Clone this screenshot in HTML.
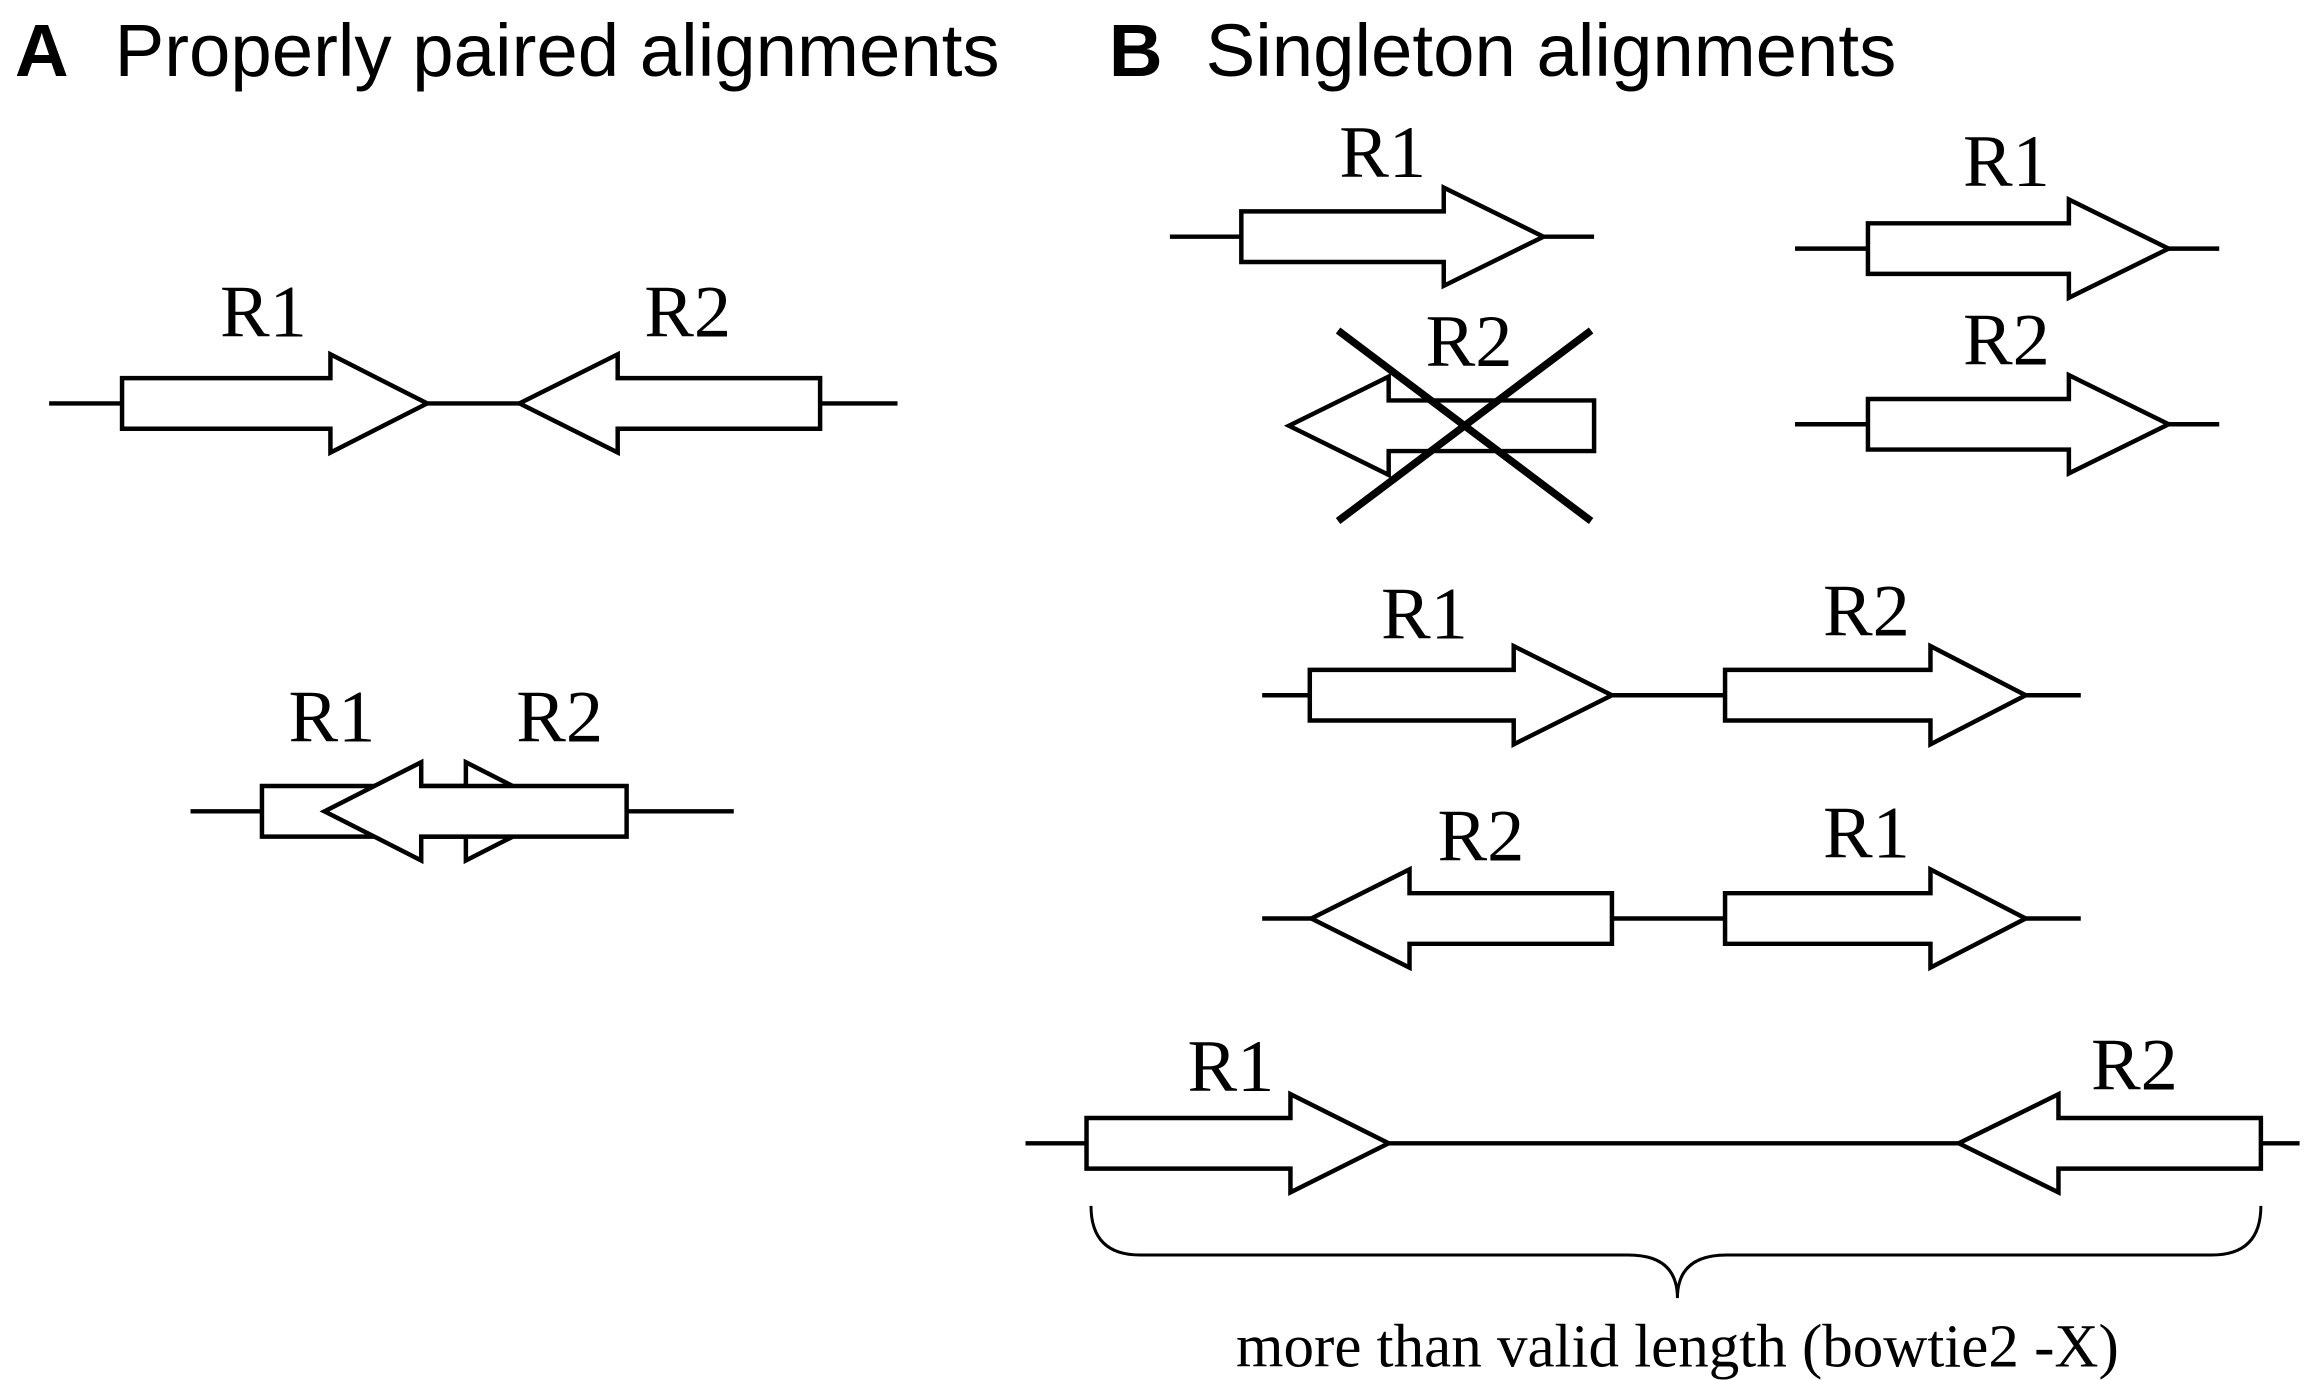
<!DOCTYPE html>
<html><head><meta charset="utf-8"><style>
html,body{margin:0;padding:0;background:#fff;}
svg{display:block;}
</style></head><body>
<svg width="2310" height="1380" viewBox="0 0 1552 927" preserveAspectRatio="none" xmlns="http://www.w3.org/2000/svg">
<rect width="1552" height="927" fill="#fff"/>
<g font-family="'Liberation Sans',sans-serif" font-size="50" fill="#000">
<text x="10" y="51" font-weight="bold">A</text>
<text x="77" y="51">Properly paired alignments</text>
<text x="745" y="51" font-weight="bold">B</text>
<text x="810" y="51">Singleton alignments</text>
</g>
<g stroke="#000" stroke-width="3" fill="#fff" stroke-linejoin="miter">
<line x1="33" y1="271" x2="603" y2="271"/>
<polygon points="82,254 222,254 222,238 287,271 222,304 222,288 82,288"/>
<polygon points="551,254 415,254 415,238 349,271 415,304 415,288 551,288"/>
<line x1="128" y1="545" x2="493" y2="545"/>
<polygon points="176,528 313,528 313,512 378,545 313,578 313,562 176,562"/>
<polygon points="421,528 283,528 283,512 218,545 283,578 283,562 421,562"/>
<line x1="786" y1="159" x2="1071" y2="159"/>
<polygon points="834,142 970,142 970,126 1037,159 970,192 970,176 834,176"/>
<polygon points="1071,269 933,269 933,253 866,286 933,319 933,303 1071,303"/>
<line x1="1206" y1="167" x2="1491" y2="167"/>
<polygon points="1255,150 1390,150 1390,134 1457,167 1390,200 1390,184 1255,184"/>
<line x1="1206" y1="285" x2="1491" y2="285"/>
<polygon points="1255,268 1390,268 1390,252 1457,285 1390,318 1390,302 1255,302"/>
<line x1="848" y1="467" x2="1398" y2="467"/>
<polygon points="880,450 1017,450 1017,434 1083,467 1017,500 1017,484 880,484"/>
<polygon points="1159,450 1297,450 1297,434 1361,467 1297,500 1297,484 1159,484"/>
<line x1="848" y1="617" x2="1398" y2="617"/>
<polygon points="1083,600 947,600 947,584 881,617 947,650 947,634 1083,634"/>
<polygon points="1159,600 1297,600 1297,584 1361,617 1297,650 1297,634 1159,634"/>
<line x1="689" y1="768" x2="1545" y2="768"/>
<polygon points="730,751 867,751 867,735 933,768 867,801 867,785 730,785"/>
<polygon points="1519,751 1383,751 1383,735 1316,768 1383,801 1383,785 1519,785"/>
<path d="M733,810 Q733,843 766,843 L1094,843 Q1127,843 1127,872 Q1127,843 1160,843 L1486,843 Q1519,843 1519,810" fill="none" stroke-width="2"/>
</g>
<g stroke="#000" stroke-width="5">
<line x1="899" y1="222" x2="1069" y2="350"/>
<line x1="1069" y1="222" x2="899" y2="350"/>
</g>
<g font-family="'Liberation Serif',serif" font-size="50" fill="#000" text-anchor="middle">
<text x="177" y="226">R1</text>
<text x="462" y="226">R2</text>
<text x="223" y="498">R1</text>
<text x="376" y="498">R2</text>
<text x="929" y="119">R1</text>
<text x="987" y="246">R2</text>
<text x="1348" y="125">R1</text>
<text x="1348" y="245">R2</text>
<text x="957" y="429">R1</text>
<text x="1254" y="427">R2</text>
<text x="995" y="578">R2</text>
<text x="1254" y="576">R1</text>
<text x="827" y="733">R1</text>
<text x="1434" y="732">R2</text>
</g>
<text x="1127" y="918" font-family="'Liberation Serif',serif" font-size="41" text-anchor="middle">more than valid length (bowtie2 -X)</text>
</svg>
</body></html>
